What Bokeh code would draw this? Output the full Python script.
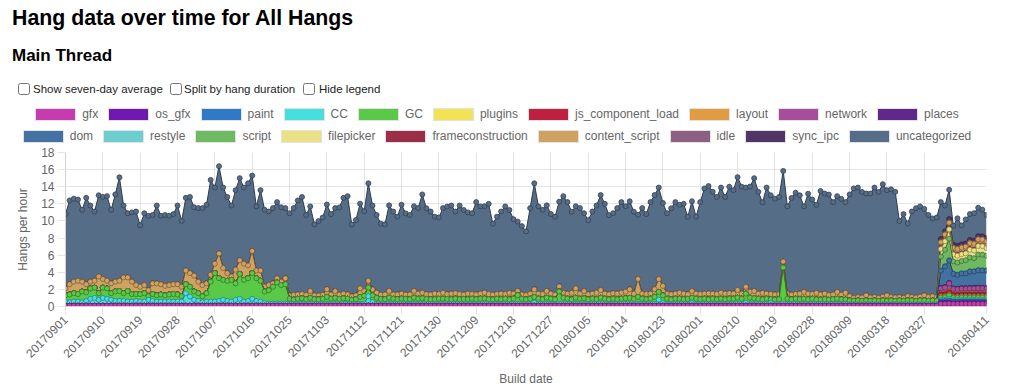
import math
import pandas as pd
from bokeh.plotting import figure
from bokeh.models import ColumnDataSource, Div, FixedTicker, Range1d
from bokeh.layouts import column
from bokeh.transform import stack
from bokeh.embed import file_html
from bokeh.resources import INLINE

# ---------------- data ----------------
dates = list(pd.date_range("2017-09-01", "2018-04-11").strftime("%Y%m%d"))

tick_labels = ["20170901", "20170910", "20170919", "20170928", "20171007", "20171016",
               "20171025", "20171103", "20171112", "20171121", "20171130", "20171209",
               "20171218", "20171227", "20180105", "20180114", "20180123", "20180201",
               "20180210", "20180219", "20180228", "20180309", "20180318", "20180327",
               "20180411"]
y_ticks = [0, 2, 4, 6, 8, 10, 12, 14, 16, 18]

names = ["gfx", "os_gfx", "paint", "CC", "GC", "plugins", "js_component_load", "layout",
         "network", "places", "dom", "restyle", "script", "filepicker", "frameconstruction",
         "content_script", "idle", "sync_ipc", "uncategorized"]
colors = ["#c63bb0", "#7019b0", "#3079c6", "#45dfe0", "#59c947", "#f1e256", "#c0203f",
          "#e09b43", "#a84d9b", "#61288c", "#4372a2", "#6ccfce", "#6fba60", "#ebe085",
          "#9b2f48", "#cfa262", "#8d5f85", "#523566", "#566d88"]

gfx = [
    0.10, 0.10, 0.10, 0.10, 0.10, 0.10, 0.10, 0.10, 0.10, 0.10,
    0.10, 0.10, 0.10, 0.10, 0.10, 0.10, 0.10, 0.10, 0.10, 0.10,
    0.10, 0.10, 0.10, 0.10, 0.10, 0.10, 0.10, 0.10, 0.10, 0.10,
    0.10, 0.10, 0.10, 0.10, 0.10, 0.10, 0.10, 0.10, 0.10, 0.10,
    0.10, 0.10, 0.10, 0.10, 0.10, 0.10, 0.10, 0.10, 0.10, 0.10,
    0.10, 0.10, 0.10, 0.10, 0.10, 0.10, 0.10, 0.10, 0.10, 0.10,
    0.10, 0.10, 0.10, 0.10, 0.10, 0.10, 0.10, 0.10, 0.10, 0.10,
    0.10, 0.10, 0.10, 0.10, 0.10, 0.10, 0.10, 0.10, 0.10, 0.10,
    0.10, 0.10, 0.10, 0.10, 0.10, 0.10, 0.10, 0.10, 0.10, 0.10,
    0.10, 0.10, 0.10, 0.10, 0.10, 0.10, 0.10, 0.10, 0.10, 0.10,
    0.10, 0.10, 0.10, 0.10, 0.10, 0.10, 0.10, 0.10, 0.10, 0.10,
    0.10, 0.10, 0.10, 0.10, 0.10, 0.10, 0.10, 0.10, 0.10, 0.10,
    0.10, 0.10, 0.10, 0.10, 0.10, 0.10, 0.10, 0.10, 0.10, 0.10,
    0.10, 0.10, 0.10, 0.10, 0.10, 0.10, 0.10, 0.10, 0.10, 0.10,
    0.10, 0.10, 0.10, 0.10, 0.10, 0.10, 0.10, 0.10, 0.10, 0.10,
    0.10, 0.10, 0.10, 0.10, 0.10, 0.10, 0.10, 0.10, 0.10, 0.10,
    0.10, 0.10, 0.10, 0.10, 0.10, 0.10, 0.10, 0.10, 0.10, 0.10,
    0.10, 0.10, 0.10, 0.10, 0.10, 0.10, 0.10, 0.10, 0.10, 0.10,
    0.10, 0.10, 0.10, 0.10, 0.10, 0.10, 0.10, 0.10, 0.10, 0.10,
    0.10, 0.10, 0.10, 0.10, 0.10, 0.10, 0.10, 0.10, 0.10, 0.10,
    0.10, 0.10, 0.10, 0.10, 0.10, 0.10, 0.10, 0.10, 0.10, 0.10,
    0.10, 0.30, 0.30, 0.32, 0.28, 0.28, 0.30, 0.30, 0.30, 0.30,
    0.30, 0.30, 0.30]

CC = [
    0.48, 0.40, 0.48, 0.48, 0.40, 0.55, 0.80, 0.90, 0.68, 0.90,
    0.80, 0.68, 0.55, 0.55, 0.55, 0.48, 0.48, 0.55, 0.48, 0.48,
    0.68, 0.55, 0.48, 0.48, 0.48, 0.48, 0.48, 0.48, 0.48, 1.45,
    1.07, 0.68, 0.55, 0.40, 0.48, 0.48, 0.48, 0.55, 0.68, 0.55,
    0.48, 0.68, 0.80, 0.48, 0.55, 0.80, 0.55, 0.48, 0.30, 0.25,
    0.25, 0.25, 0.25, 0.25, 0.20, 0.20, 0.20, 0.20, 0.20, 0.20,
    0.20, 0.18, 0.20, 0.22, 0.20, 0.20, 0.18, 0.20, 0.20, 0.18,
    0.20, 0.22, 0.25, 1.10, 0.40, 0.20, 0.18, 0.20, 0.22, 0.20,
    0.20, 0.20, 0.18, 0.20, 0.22, 0.20, 0.20, 0.18, 0.20, 0.20,
    0.20, 0.20, 0.18, 0.20, 0.20, 0.20, 0.18, 0.20, 0.20, 0.20,
    0.20, 0.22, 0.20, 0.18, 0.20, 0.20, 0.20, 0.18, 0.20, 0.22,
    0.20, 0.18, 0.20, 0.35, 0.20, 0.20, 0.22, 0.20, 0.18, 0.25,
    0.20, 0.20, 0.18, 0.22, 0.20, 0.20, 0.18, 0.20, 0.20, 0.22,
    0.20, 0.18, 0.20, 0.20, 0.20, 0.22, 0.20, 0.18, 0.22, 0.20,
    0.20, 0.20, 0.22, 0.70, 0.30, 0.20, 0.18, 0.20, 0.20, 0.20,
    0.18, 0.30, 0.20, 0.20, 0.20, 0.18, 0.20, 0.20, 0.20, 0.20,
    0.20, 0.20, 0.22, 0.20, 0.35, 0.22, 0.20, 0.20, 0.18, 0.20,
    0.30, 0.20, 0.20, 0.25, 0.20, 0.18, 0.20, 0.20, 0.20, 0.18,
    0.20, 0.18, 0.20, 0.20, 0.18, 0.20, 0.20, 0.18, 0.20, 0.15,
    0.15, 0.15, 0.14, 0.15, 0.15, 0.15, 0.14, 0.15, 0.15, 0.15,
    0.15, 0.14, 0.15, 0.15, 0.15, 0.14, 0.15, 0.15, 0.15, 0.14,
    0.15, 0.15, 0.15, 0.18, 0.15, 0.15, 0.15, 0.15, 0.15, 0.15,
    0.15, 0.15, 0.15]

GC = [
    0.72, 0.90, 0.97, 0.87, 1.25, 1.00, 1.20, 1.20, 0.77, 1.20,
    1.20, 0.77, 1.10, 1.15, 0.90, 1.22, 0.87, 0.80, 0.87, 0.97,
    0.42, 0.80, 0.72, 0.82, 0.72, 0.82, 0.87, 0.82, 0.62, 1.05,
    1.13, 0.97, 0.90, 0.70, 0.97, 2.32, 3.32, 2.65, 2.32, 2.35,
    2.52, 1.92, 2.90, 2.52, 2.65, 3.00, 2.65, 2.42, 1.35, 1.55,
    1.95, 2.45, 2.15, 2.25, 0.60, 0.50, 0.60, 0.65, 0.55, 0.70,
    0.55, 0.55, 0.60, 0.80, 0.60, 0.70, 0.60, 0.65, 0.60, 0.50,
    0.55, 0.80, 0.90, 1.00, 0.80, 0.70, 0.60, 0.55, 0.70, 0.60,
    0.55, 0.60, 0.60, 0.55, 0.70, 0.60, 0.65, 0.60, 0.55, 0.55,
    0.60, 0.60, 0.60, 0.55, 0.60, 0.55, 0.60, 0.55, 0.60, 0.55,
    0.60, 0.60, 0.55, 0.55, 0.60, 0.55, 0.60, 0.55, 0.60, 1.00,
    0.60, 0.55, 0.60, 0.65, 0.60, 0.55, 0.70, 0.60, 0.55, 1.40,
    0.70, 0.60, 0.55, 0.70, 0.60, 0.65, 0.55, 0.60, 0.55, 0.70,
    0.60, 0.55, 0.60, 0.55, 0.60, 0.65, 0.70, 0.60, 0.80, 0.60,
    0.55, 0.60, 0.80, 0.90, 0.90, 0.60, 0.55, 0.60, 0.60, 0.55,
    0.60, 0.60, 0.60, 0.55, 0.60, 0.55, 0.60, 0.55, 0.60, 0.55,
    0.60, 0.60, 0.70, 0.60, 1.05, 0.70, 0.65, 0.60, 0.55, 0.60,
    0.45, 0.50, 0.55, 4.20, 0.60, 0.55, 0.60, 0.55, 0.60, 0.55,
    0.60, 0.55, 0.50, 0.55, 0.50, 0.55, 0.60, 0.55, 0.50, 0.45,
    0.40, 0.45, 0.40, 0.45, 0.40, 0.45, 0.40, 0.45, 0.40, 0.45,
    0.40, 0.45, 0.40, 0.45, 0.45, 0.40, 0.45, 0.45, 0.40, 0.45,
    0.40, 0.30, 0.30, 0.40, 0.30, 0.30, 0.30, 0.30, 0.30, 0.30,
    0.30, 0.30, 0.30]

content_script = [
    0.80, 1.20, 1.35, 1.55, 1.15, 0.95, 0.80, 0.80, 1.95, 1.00,
    0.90, 1.15, 1.15, 1.20, 1.85, 1.60, 1.45, 1.05, 0.85, 0.95,
    0.70, 1.25, 1.40, 1.20, 1.10, 1.10, 1.15, 1.20, 1.10, 1.60,
    1.60, 1.85, 1.35, 1.30, 1.15, 0.80, 1.10, 2.90, 1.40, 0.90,
    0.40, 1.60, 1.60, 1.90, 1.50, 2.60, 0.90, 1.20, 0.55, 0.60,
    0.40, 0.50, 0.40, 0.70, 0.40, 0.55, 0.50, 0.50, 0.50, 0.80,
    0.45, 0.45, 0.45, 0.90, 0.50, 0.80, 0.50, 0.55, 0.50, 0.40,
    0.45, 1.00, 0.55, 0.80, 0.70, 0.60, 0.50, 0.55, 0.80, 0.50,
    0.55, 0.60, 0.50, 0.55, 0.80, 0.60, 0.65, 0.55, 0.55, 0.65,
    0.55, 0.70, 0.55, 0.65, 0.65, 0.60, 0.50, 0.65, 0.55, 0.55,
    0.60, 0.70, 0.60, 0.55, 0.55, 0.65, 0.55, 0.75, 0.60, 0.50,
    0.50, 0.50, 0.60, 0.90, 0.60, 0.60, 0.80, 0.60, 0.55, 0.60,
    0.60, 0.60, 0.75, 1.10, 0.60, 0.85, 0.60, 0.60, 0.75, 0.90,
    0.60, 0.60, 0.65, 0.65, 0.70, 0.75, 1.00, 0.60, 2.10, 0.60,
    0.60, 0.60, 0.90, 1.50, 1.10, 0.60, 0.60, 0.60, 0.70, 0.65,
    0.55, 0.80, 0.60, 0.60, 0.60, 0.70, 0.60, 0.60, 0.70, 0.65,
    0.65, 0.60, 0.90, 0.60, 0.80, 0.70, 0.85, 0.60, 0.75, 0.60,
    0.60, 0.60, 0.60, 0.70, 0.60, 0.55, 0.55, 0.65, 0.80, 0.65,
    0.55, 0.75, 0.60, 0.65, 0.55, 0.55, 0.80, 0.55, 0.80, 0.50,
    0.35, 0.40, 0.40, 0.60, 0.40, 0.40, 0.35, 0.45, 0.65, 0.40,
    0.40, 0.40, 0.35, 0.50, 0.40, 0.40, 0.45, 0.60, 0.45, 0.50,
    0.45, 0.70, 0.70, 0.70, 0.70, 0.70, 0.70, 0.70, 0.70, 0.70,
    0.70, 0.70, 0.70]

uncategorized = [
    8.70, 9.80, 9.70, 9.50, 8.40, 10.10, 8.90, 8.10, 9.50, 9.60,
    9.90, 8.60, 10.20, 12.10, 8.40, 7.50, 8.10, 8.60, 7.20, 8.40,
    8.70, 8.00, 9.10, 8.00, 8.30, 8.10, 8.20, 9.20, 7.70, 8.50,
    8.90, 8.00, 8.60, 9.00, 9.20, 11.10, 8.90, 10.20, 9.40, 8.90,
    8.30, 9.30, 9.60, 8.90, 9.60, 8.80, 7.50, 9.40, 9.00, 8.60,
    8.80, 8.90, 8.70, 8.20, 9.60, 10.15, 11.00, 11.35, 9.35, 9.90,
    8.30, 8.70, 9.05, 9.90, 9.40, 9.70, 10.20, 11.20, 11.50, 8.40,
    8.80, 9.90, 9.35, 11.40, 9.80, 9.10, 8.30, 8.20, 10.00, 9.70,
    9.10, 10.40, 9.50, 9.30, 9.90, 10.00, 11.50, 10.05, 9.70, 9.00,
    8.95, 9.90, 10.25, 10.30, 9.55, 10.35, 9.90, 9.50, 9.45, 10.80,
    10.20, 10.10, 10.55, 8.30, 9.05, 9.60, 10.25, 9.70, 8.70, 8.10,
    8.00, 7.45, 10.00, 12.40, 10.20, 9.85, 10.00, 9.30, 9.10, 9.90,
    11.30, 10.70, 9.50, 9.60, 10.00, 9.10, 8.65, 9.60, 10.20, 11.10,
    10.50, 9.25, 9.35, 10.00, 10.60, 10.00, 10.30, 9.60, 7.50, 10.00,
    9.35, 10.70, 11.00, 10.70, 9.70, 9.40, 10.05, 10.70, 10.30, 10.50,
    9.05, 10.50, 9.00, 10.75, 12.30, 12.55, 11.90, 11.35, 12.30, 11.30,
    12.45, 12.10, 13.20, 12.50, 11.60, 12.30, 13.20, 11.90, 10.60, 12.40,
    11.55, 11.20, 11.35, 10.60, 10.20, 11.30, 11.85, 11.50, 10.00, 11.70,
    11.05, 10.30, 12.10, 11.70, 11.75, 10.80, 11.20, 11.20, 10.60, 11.90,
    12.80, 12.80, 12.35, 11.90, 12.15, 12.80, 12.40, 13.15, 12.30, 12.60,
    12.35, 8.90, 9.80, 8.50, 10.00, 10.45, 10.55, 10.10, 9.60, 9.10,
    9.30, 4.32, 3.02, 3.42, 2.22, 3.22, 2.22, 2.82, 3.02, 3.22,
    3.32, 3.12, 2.72]

# categories that only show up in the last builds (20180331 .. 20180411)
late_dates = ["20180331", "20180401", "20180402", "20180403", "20180404", "20180405",
              "20180406", "20180407", "20180408", "20180409", "20180410", "20180411"]
os_gfx_late = [0.10, 0.11, 0.12, 0.10, 0.10, 0.10, 0.10, 0.10, 0.11, 0.10, 0.10, 0.10]
paint_late = [0.20, 0.22, 0.25, 0.20, 0.20, 0.20, 0.20, 0.20, 0.20, 0.20, 0.20, 0.20]
plugins_late = [0.05, 0.05, 0.05, 0.05, 0.05, 0.05, 0.05, 0.05, 0.05, 0.05, 0.05, 0.05]
js_component_load_late = [0.30, 0.32, 0.35, 0.28, 0.28, 0.30, 0.30, 0.30, 0.30, 0.32, 0.30, 0.30]
layout_late = [0.10, 0.10, 0.12, 0.10, 0.10, 0.10, 0.10, 0.10, 0.10, 0.10, 0.10, 0.10]
network_late = [0.60, 0.65, 0.90, 0.58, 0.55, 0.58, 0.58, 0.60, 0.60, 0.62, 0.62, 0.60]
places_late = [0.08, 0.08, 0.08, 0.08, 0.08, 0.08, 0.08, 0.08, 0.08, 0.08, 0.08, 0.08]
dom_late = [2.00, 2.40, 2.60, 1.70, 1.60, 1.70, 1.70, 1.90, 1.90, 2.00, 2.00, 2.00]
restyle_late = [0.05, 0.05, 0.05, 0.05, 0.05, 0.05, 0.05, 0.05, 0.05, 0.05, 0.05, 0.05]
script_late = [1.60, 1.90, 2.50, 1.40, 1.40, 1.40, 1.50, 1.60, 1.50, 1.80, 1.80, 1.70]
filepicker_late = [0.90, 1.00, 1.10, 0.80, 0.80, 0.80, 0.80, 0.90, 0.90, 1.00, 1.00, 0.90]
frameconstruction_late = [0.08, 0.08, 0.08, 0.08, 0.08, 0.08, 0.08, 0.08, 0.08, 0.08, 0.08, 0.08]
idle_late = [0.07, 0.07, 0.07, 0.07, 0.07, 0.07, 0.07, 0.07, 0.07, 0.07, 0.07, 0.07]
sync_ipc_late = [0.30, 0.30, 0.35, 0.30, 0.30, 0.30, 0.30, 0.30, 0.30, 0.30, 0.30, 0.30]

N = len(dates)
for arr in (gfx, CC, GC, content_script, uncategorized):
    assert len(arr) == N, len(arr)


def full_series(late_vals):
    table = dict(zip(late_dates, late_vals))
    return [table.get(d, 0.0) for d in dates]


data = {"x": list(range(N)), "date": dates,
        "gfx": gfx, "os_gfx": full_series(os_gfx_late), "paint": full_series(paint_late),
        "CC": CC, "GC": GC, "plugins": full_series(plugins_late),
        "js_component_load": full_series(js_component_load_late),
        "layout": full_series(layout_late), "network": full_series(network_late),
        "places": full_series(places_late), "dom": full_series(dom_late),
        "restyle": full_series(restyle_late), "script": full_series(script_late),
        "filepicker": full_series(filepicker_late),
        "frameconstruction": full_series(frameconstruction_late),
        "content_script": content_script, "idle": full_series(idle_late),
        "sync_ipc": full_series(sync_ipc_late), "uncategorized": uncategorized}
src = ColumnDataSource(data)


def darker(hexcol, f=0.55):
    r, g, b = int(hexcol[1:3], 16), int(hexcol[3:5], 16), int(hexcol[5:7], 16)
    return "#%02x%02x%02x" % (int(r * f), int(g * f), int(b * f))


FONT = "Liberation Sans"
GRID = "#e5e5e5"
W = 1021

# ---------------- main chart ----------------
p = figure(width=W, height=244, x_range=Range1d(0, N - 1), y_range=Range1d(0, 18),
           output_backend="svg", toolbar_location=None,
           min_border_left=65, min_border_right=35, min_border_top=8, min_border_bottom=82,
           outline_line_color=None, background_fill_color="white", border_fill_color="white")

for i in reversed(range(len(names))):
    upto = names[:i + 1]
    y1 = stack(*names[:i]) if i > 0 else 0
    p.varea(x="x", y1=y1, y2=stack(*upto), source=src, fill_color=colors[i], fill_alpha=1.0)
    p.line(x="x", y=stack(*upto), source=src, line_color=darker(colors[i]), line_width=1)
    p.scatter(x="x", y=stack(*upto), source=src, marker="circle", size=5,
              fill_color=colors[i], line_color=darker(colors[i], 0.6), line_width=0.8)

tick_pos = [dates.index(t) for t in tick_labels]
p.xaxis.ticker = FixedTicker(ticks=tick_pos)
p.xaxis.major_label_overrides = {pos: lab for pos, lab in zip(tick_pos, tick_labels)}
p.xaxis.major_label_orientation = math.pi / 4
p.yaxis.ticker = FixedTicker(ticks=y_ticks)
p.xgrid.ticker = FixedTicker(ticks=tick_pos)
p.ygrid.ticker = FixedTicker(ticks=y_ticks)
p.grid.grid_line_color = GRID
p.grid.grid_line_width = 1

for ax in (p.xaxis[0], p.yaxis[0]):
    ax.axis_line_color = "#d0d0d0"
    ax.major_tick_line_color = GRID
    ax.major_tick_out = 8
    ax.major_tick_in = 0
    ax.minor_tick_line_color = None
    ax.major_label_text_font = FONT
    ax.major_label_text_font_size = "12px"
    ax.major_label_text_color = "#666666"
    ax.major_label_standoff = 3
    ax.axis_label_text_font = FONT
    ax.axis_label_text_font_size = "12px"
    ax.axis_label_text_color = "#666666"
    ax.axis_label_text_font_style = "normal"

p.xaxis.axis_label = "Build date"
p.yaxis.axis_label = "Hangs per hour"
p.xaxis.axis_label_standoff = 7
p.yaxis.axis_label_standoff = 8

# ---------------- header with title, checkboxes and legend ----------------
def legend_row(row_names, top):
    items = []
    for n in row_names:
        c = colors[names.index(n)]
        items.append(
            '<span style="display:flex;align-items:center;gap:6px;">'
            '<span style="display:inline-block;box-sizing:border-box;width:41px;height:13px;'
            'background:%s;border:1.5px solid #e2e2e2;"></span>'
            '<span>%s</span></span>' % (c, n))
    return ('<div style="position:absolute;left:0;top:%spx;width:994px;height:14px;'
            'display:flex;justify-content:center;align-items:center;gap:10px;'
            'font-size:12px;line-height:14px;color:#666;white-space:nowrap;">%s</div>'
            % (top, "".join(items)))


header_html = (
    '<div style="position:relative;width:1010px;height:144px;'
    "font-family:'Liberation Sans',Arial,sans-serif;color:#000;\">"
    '<div style="position:absolute;left:12px;top:8px;font-size:21.3px;line-height:21px;'
    'font-weight:bold;white-space:nowrap;">Hang data over time for All Hangs</div>'
    '<div style="position:absolute;left:12px;top:47px;font-size:17px;line-height:17px;'
    'font-weight:bold;white-space:nowrap;">Main Thread</div>'
    '<input type="checkbox" style="position:absolute;left:18px;top:83px;width:12px;height:12px;margin:0;">'
    '<span style="position:absolute;left:33px;top:83px;font-size:11.5px;line-height:12px;'
    'white-space:nowrap;color:#222;">Show seven-day average</span>'
    '<input type="checkbox" style="position:absolute;left:170px;top:83px;width:12px;height:12px;margin:0;">'
    '<span style="position:absolute;left:184px;top:83px;font-size:11.5px;line-height:12px;'
    'white-space:nowrap;color:#222;">Split by hang duration</span>'
    '<input type="checkbox" style="position:absolute;left:303px;top:83px;width:12px;height:12px;margin:0;">'
    '<span style="position:absolute;left:319px;top:83px;font-size:11.5px;line-height:12px;'
    'white-space:nowrap;color:#222;">Hide legend</span>'
    + legend_row(names[:10], 107) + legend_row(names[10:], 129) +
    '</div>')

header = Div(text=header_html, width=W, height=144, margin=(0, 0, 0, 0))

layout = column(header, p, spacing=0)
open("out.html", "w").write(file_html(layout, INLINE))
